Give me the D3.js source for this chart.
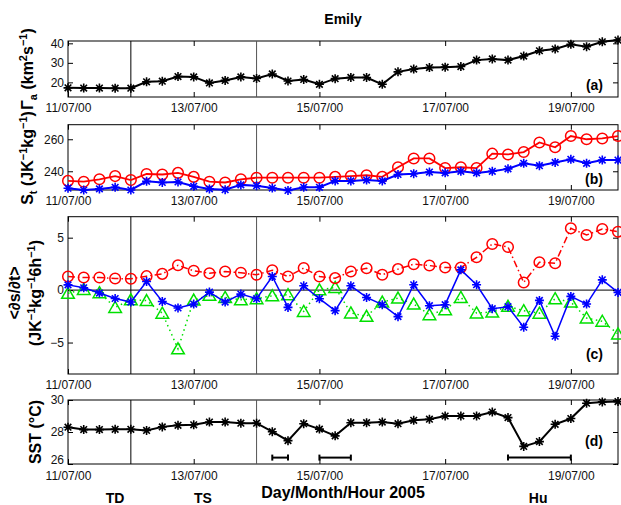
<!DOCTYPE html>
<html>
<head>
<meta charset="utf-8">
<script src="https://cdn.jsdelivr.net/npm/d3@7"></script>
<style>
  body { margin: 0; background: #fff; }
  svg { display: block; font-family: "Liberation Sans", Arial, sans-serif; }
  .tick text { font-size: 12px; fill: #111; }
</style>
</head>
<body>
<div id="chart"></div>
<script>
// hours since 11/07 00:00, one sample every 6h
var hours = [0,6,12,18,24,30,36,42,48,54,60,66,72,78,84,90,96,102,108,114,120,126,132,138,144,150,156,162,168,174,180,186,192,198,204,210];

var gamma = [17.2,17.1,17.1,17,17,20.3,20.6,23,22.8,19.7,21,22.8,22,24.3,20.7,21.5,19,21.9,22.5,22.5,19,25.4,26.8,27.6,27.8,28.1,31.4,32,31.4,33.5,36.2,37.1,39.5,38.3,40.8,41.7];

var stRed  = [234,233.5,235,237,234.5,238.3,238,239,236.5,233.5,233,235,236,236,236,236,236,236.5,237,237.5,236.5,242.5,248,248,242,242.5,242,251,250.5,252,258,255,262,260,260.5,262];
var stBlue = [229.4,228.3,229,230,228.3,233.7,233,233.3,230.6,229,228.5,231.5,231,229.5,228,230,230,234,234,234.5,234,238,238.5,239.5,239,240,239,240,241.5,245,243.5,245.5,247.5,245,247,247];

var dsRed   = [1.3,1.2,1.2,1.1,1.08,1.33,1.55,2.37,1.84,1.6,1.77,1.65,1.46,1.9,1.3,2.1,1.3,1.14,1.77,2.09,1.46,2.0,2.47,2.34,2.15,2.15,3.13,4.4,4.11,0.73,2.66,2.56,5.89,5.25,5.82,5.57];
var dsBlue  = [0.5,0.22,-0.28,-0.8,-1.14,0.82,-1.08,-1.7,-1.33,-0.19,-1.14,-0.38,-0.82,1.3,-1.65,0.41,-0.82,-1.96,0.41,-0.7,-1.39,-2.53,0.51,-1.49,-1.39,1.93,0.51,-1.77,-1.58,-3.54,-0.98,-4.4,-0.6,-1.33,0.98,-0.22];
var dsGreen = [-0.3,0.06,-0.25,-1.65,-0.92,-1.0,-2.2,-5.6,-0.95,-0.5,-0.7,-0.92,-0.82,-0.54,-0.44,-2.03,0.03,0.25,-2.18,-2.5,-1.14,-0.76,-1.33,-2.34,-1.87,-0.7,-2.18,-2.09,-1.55,-1.96,-2.2,-0.82,-1.14,-2.66,-2.97,-4.18];

var sst = [28.3,28.15,28.15,28.17,28.17,28.1,28.32,28.42,28.45,28.62,28.62,28.55,28.55,28.02,27.46,28.52,28.18,27.76,28.58,28.58,28.62,28.52,28.73,28.8,29.0,29.0,29.0,29.25,28.9,27.1,27.4,28.48,28.84,29.8,29.88,29.9];

var xTickHours  = [0,48,96,144,192];
var xTickLabels = ["11/07/00","13/07/00","15/07/00","17/07/00","19/07/00"];
var stageHours  = [24,72];                      // stage boundaries
var errStart = [78,96,168], errEnd = [84,108,192], errLevel = 26.4;
var stageNames = ["TD","TS","Hu"], stageAt = [18,51.5,179.5];

var W = 621, H = 505;
var svg = d3.select("#chart").append("svg").attr("width", W).attr("height", H);
var x = d3.scaleLinear().domain([0, 210]).range([68, 618]);

var panels = [
  {id:"a", top:41,    bottom:97,  dom:[12.5,41.2],  ticks:[20,30,40],  tag:[603,90]},
  {id:"b", top:124.7, bottom:190, dom:[228.3,269.1],ticks:[240,260],   tag:[603,184]},
  {id:"c", top:216.7, bottom:374, dom:[-8,7],       ticks:[-5,0,5],    tag:[603,359]},
  {id:"d", top:400,   bottom:464, dom:[26,30],      ticks:[26,28,30],  tag:[603,446]}
];
panels.forEach(function(p){ p.y = d3.scaleLinear().domain(p.dom).range([p.bottom, p.top]); });

function rich(t, parts){
  var shift = 0;
  parts.forEach(function(q){
    var s = q[1] === "sub" ? 4 : q[1] === "sup" ? -6 : 0;
    t.append("tspan").attr("dy", s - shift)
      .style("font-size", s ? "11px" : null).text(q[0]);
    shift = s;
  });
}

panels.forEach(function(p){
  var g = svg.append("g");
  g.append("g").attr("transform","translate(0,"+p.bottom+")")
    .call(d3.axisBottom(x).tickValues(xTickHours).tickFormat(function(d,i){return xTickLabels[i];})
      .tickSizeInner(-5).tickSizeOuter(0).tickPadding(p.id === "d" ? 7 : 6));
  g.append("g").attr("transform","translate(0,"+p.top+")")
    .call(d3.axisTop(x).tickValues(xTickHours).tickFormat("").tickSizeInner(-5).tickSizeOuter(0));
  var yl = g.append("g").attr("transform","translate(68,0)")
    .call(d3.axisLeft(p.y).tickValues(p.ticks).tickFormat(d3.format("d"))
      .tickSizeInner(-5).tickSizeOuter(0).tickPadding(4));
  if (p.id === "d") yl.selectAll(".tick text").attr("dy", function(d){ return d === 26 ? "-0.05em" : "0.32em"; });
  g.append("g").attr("transform","translate(618,0)")
    .call(d3.axisRight(p.y).tickValues(p.ticks).tickFormat("").tickSizeInner(-5).tickSizeOuter(0));
  g.selectAll(".domain").remove();
  g.selectAll(".tick line").attr("stroke","#000");
  g.append("rect").attr("x",68).attr("y",p.top).attr("width",550).attr("height",p.bottom-p.top)
    .attr("fill","none").attr("stroke","#000").attr("stroke-width",1);
  stageHours.forEach(function(h,i){
    g.append("line").attr("x1",x(h)).attr("x2",x(h)).attr("y1",p.top).attr("y2",p.bottom)
      .attr("stroke", i ? "#555" : "#000").attr("stroke-width",1);
  });
  g.append("text").attr("x",p.tag[0]).attr("y",p.tag[1]).attr("text-anchor","end")
    .style("font-weight","bold").style("font-size","14px").text("("+p.id+")");
});

var P = {}; panels.forEach(function(p){ P[p.id] = p; });

var starPath = "M-4.5,0H4.5M0,-4.5V4.5M-3.3,-3.3L3.3,3.3M-3.3,3.3L3.3,-3.3";
var triPath = "M0,-6L6.3,5H-6.3Z";

function series(p, vals, color, width, dash, marker){
  var line = d3.line().x(function(d,i){return x(hours[i]);}).y(function(d){return p.y(d);});
  svg.append("path").datum(vals).attr("d",line).attr("fill","none")
    .attr("stroke",color).attr("stroke-width",width).attr("stroke-dasharray",dash);
  var m = svg.append("g").selectAll("g").data(vals).enter().append("g")
    .attr("transform",function(d,i){return "translate("+x(hours[i])+","+p.y(d)+")";});
  if (marker === "star") m.append("path").attr("d",starPath).attr("stroke",color).attr("stroke-width",1.6).attr("fill","none");
  if (marker === "circle") m.append("circle").attr("r",5.3).attr("stroke",color).attr("stroke-width",1.5).attr("fill","none");
  if (marker === "tri") m.append("path").attr("d",triPath).attr("stroke",color).attr("stroke-width",1.5).attr("fill","none");
}

// zero line in (c)
svg.append("line").attr("x1",68).attr("x2",618).attr("y1",P.c.y(0)).attr("y2",P.c.y(0))
  .attr("stroke","#000").attr("stroke-width",1);

series(P.a, gamma, "#000", 2, null, "star");
series(P.b, stRed, "#ff0000", 1.8, null, "circle");
series(P.b, stBlue, "#0000ff", 2, null, "star");
series(P.c, dsGreen, "#00e000", 1.5, "1.5,3.5", "tri");
series(P.c, dsRed, "#ff0000", 1.5, "7,3,1.5,3", "circle");
series(P.c, dsBlue, "#0000ff", 1.5, null, "star");
series(P.d, sst, "#000", 2, null, "star");

// error bars in (d)
errStart.forEach(function(s,i){
  var yy = P.d.y(errLevel), x0 = x(s), x1 = x(errEnd[i]);
  var g = svg.append("g").attr("stroke","#000").attr("stroke-width",2);
  g.append("line").attr("x1",x0).attr("x2",x1).attr("y1",yy).attr("y2",yy);
  g.append("line").attr("x1",x0).attr("x2",x0).attr("y1",yy-3).attr("y2",yy+3);
  g.append("line").attr("x1",x1).attr("x2",x1).attr("y1",yy-3).attr("y2",yy+3);
});

// title and labels
svg.append("text").attr("x",343).attr("y",24).attr("text-anchor","middle")
  .style("font-weight","bold").style("font-size","14px").text("Emily");

function ylab(xp, yc, parts){
  var t = svg.append("text").attr("transform","translate("+xp+","+yc+") rotate(-90)")
    .attr("text-anchor","middle").style("font-weight","bold").style("font-size","16px");
  rich(t, parts);
}
ylab(33, 69, [["Γ",""],["a","sub"],[" (km",""],["2","sup"],["s",""],["−1","sup"],[")",""]]);
ylab(33, 158, [["S",""],["t","sub"],[" (JK",""],["−1","sup"],["kg",""],["−1","sup"],[")",""]]);
ylab(20, 293, [["<∂s/∂t>",""]]);
ylab(41, 293, [["(JK",""],["−1","sup"],["kg",""],["−1","sup"],["6h",""],["−1","sup"],[")",""]]);
ylab(41, 432, [["SST (°C)",""]]);

svg.append("text").attr("x",343).attr("y",498).attr("text-anchor","middle")
  .style("font-weight","bold").style("font-size","16px").text("Day/Month/Hour 2005");

svg.selectAll(".stage").data(stageNames).enter().append("text")
  .attr("x",function(d,i){return x(stageAt[i]);}).attr("y",503).attr("text-anchor","middle")
  .style("font-weight","bold").style("font-size","14px").text(function(d){return d;});
</script>
</body>
</html>
